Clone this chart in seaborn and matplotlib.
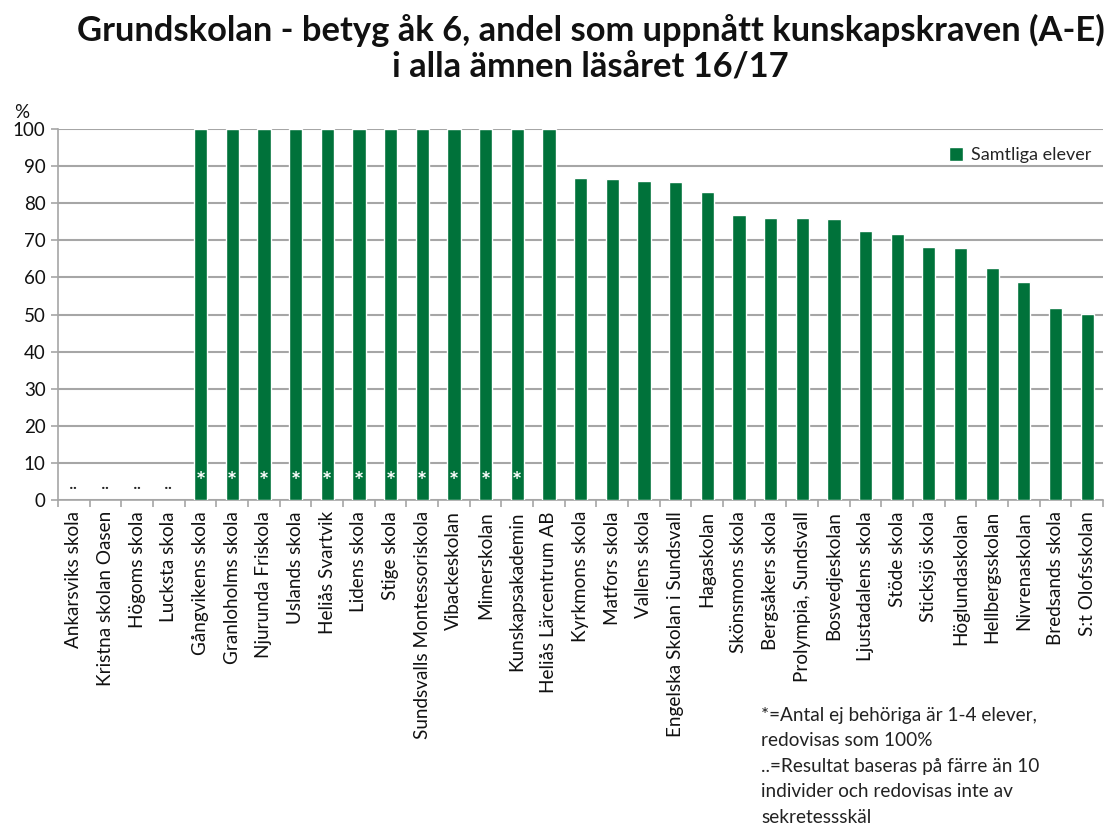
import matplotlib
matplotlib.use('Agg')
import matplotlib.pyplot as plt
import seaborn as sns
import numpy as np
import pandas as pd

# Data
schools = ['Ankarsviks skola', 'Kristna skolan Oasen', 'Högoms skola', 'Lucksta skola',
           'Gångvikens skola', 'Granloholms skola', 'Njurunda Friskola', 'Uslands skola',
           'Heliås Svartvik', 'Lidens skola', 'Stige skola', 'Sundsvalls Montessoriskola',
           'Vibackeskolan', 'Mimerskolan', 'Kunskapsakademin', 'Heliås Lärcentrum AB',
           'Kyrkmons skola', 'Matfors skola', 'Vallens skola', 'Engelska Skolan i Sundsvall',
           'Hagaskolan', 'Skönsmons skola', 'Bergsåkers skola', 'Prolympia, Sundsvall',
           'Bosvedjeskolan', 'Ljustadalens skola', 'Stöde skola', 'Sticksjö skola',
           'Höglundaskolan', 'Hellbergsskolan', 'Nivrenaskolan', 'Bredsands skola',
           'S:t Olofsskolan']
values = [np.nan, np.nan, np.nan, np.nan,
          100, 100, 100, 100, 100, 100, 100, 100, 100, 100, 100, 100,
          86.9, 86.4, 86.1, 85.6, 83.1, 76.9, 76.1, 76.1, 75.7, 72.4, 71.6,
          68.3, 67.9, 62.5, 58.7, 51.8, 50.1]
# markers: '..' = too few pupils, '*' = 1-4 pupils not qualified
flags = ['..', '..', '..', '..', '*', '*', '*', '*', '*', '*', '*', '*', '*', '*', '*',
         '', '', '', '', '', '', '', '', '', '', '', '', '', '', '', '', '', '']

title = 'Grundskolan - betyg åk 6, andel som uppnått kunskapskraven (A-E)\ni alla ämnen läsåret 16/17'
series_name = 'Samtliga elever'
footnote = ('*=Antal ej behöriga är 1-4 elever,\nredovisas som 100%\n'
            '..=Resultat baseras på färre än 10\nindivider och redovisas inte av\nsekretessskäl')

green = '#00723A'
grid_col = '#A6A6A6'

sns.set_theme(style='white')
plt.rcParams['font.family'] = ['Lato', 'DejaVu Sans']

df = pd.DataFrame({'skola': schools, 'andel': values})

fig = plt.figure(figsize=(11.1, 8.27), dpi=100)
ax = fig.add_axes([0.0523, 0.3954, 0.9414, 0.4486])

sns.barplot(data=df, x='skola', y='andel', order=schools, color=green,
            width=0.42, saturation=1, label=series_name, ax=ax, zorder=3)

# flag texts
for i, f in enumerate(flags):
    if f == '*':
        ax.text(i, 4.8, '*', color='white', ha='center', va='center',
                fontsize=17, fontweight='bold', zorder=4)
    elif f == '..':
        ax.text(i, 4.5, '..', color='#222222', ha='center', va='center',
                fontsize=14, zorder=4)

ax.set_ylim(0, 100)
ax.set_xlim(-0.5, len(schools) - 0.5)
ax.set_yticks(range(0, 101, 10))
ax.yaxis.grid(True, color=grid_col, linewidth=1.5, zorder=0)
ax.set_axisbelow(True)
for s in ['top', 'right']:
    ax.spines[s].set_visible(False)
for s in ['left', 'bottom']:
    ax.spines[s].set_color(grid_col)
    ax.spines[s].set_linewidth(1.2)

ax.set_xlabel('')
ax.set_ylabel('')
ax.set_xticks(range(len(schools)))
ax.set_xticklabels(schools, rotation=90, fontsize=13.6, va='top', ha='center',
                   color='#111111')
ax.set_xticks(np.arange(len(schools) + 1) - 0.5, minor=True)
ax.tick_params(axis='x', which='major', length=0, pad=8)
ax.tick_params(axis='x', which='minor', length=5, color=grid_col, width=1.2, bottom=True)
ax.tick_params(axis='y', length=5, color=grid_col, width=1.2, labelsize=13.5, pad=4,
               left=True, labelcolor='#111111')

ax.text(-0.035, 1.045, '%', transform=ax.transAxes, fontsize=13.5, ha='center',
        va='center', color='#111111')

leg = ax.legend(loc='upper right', bbox_to_anchor=(1.004, 0.995), frameon=False,
                fontsize=13, handlelength=0.8, handleheight=0.8, handletextpad=0.4)

fig.text(0.532, 0.941, title, ha='center', va='center', fontsize=24.8,
         fontweight='bold', linespacing=1.2, color='#111111')

fig.text(0.686, 0.145, footnote, ha='left', va='top', fontsize=13.7,
         linespacing=1.6, color='#222222')

fig.savefig('out.png', dpi=100)
